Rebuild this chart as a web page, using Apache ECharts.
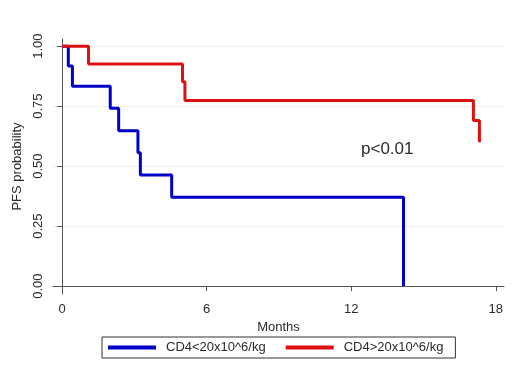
<!DOCTYPE html>
<html>
<head>
<meta charset="utf-8">
<script src="https://cdn.jsdelivr.net/npm/echarts@6/dist/echarts.min.js"></script>
<style>
  html, body { margin: 0; padding: 0; background: #fff; }
  #chart { width: 520px; height: 379px; }
</style>
</head>
<body>
<div id="chart"></div>
<script>
// Kaplan-Meier step points (months, survival)
const lowMonths = [0, 0.26, 0.43, 2.0, 2.35, 3.15, 3.25, 4.55, 14.17];
const lowSurv = [1, 0.917, 0.833, 0.741, 0.648, 0.556, 0.463, 0.370, 0];
const highMonths = [0, 1.1, 5.0, 5.1, 17.07, 17.32];
const highSurv = [1, 0.926, 0.852, 0.774, 0.69, 0.60];

const xTicks = [0, 6, 12, 18];
const yTicks = [0, 0.25, 0.5, 0.75, 1];
const seriesNames = ['CD4<20x10^6/kg', 'CD4>20x10^6/kg'];
const pText = 'p<0.01';

const font = 'Liberation Sans, Arial, sans-serif';
const textColor = '#2b2b2b';

const chart = echarts.init(document.getElementById('chart'));

const zip = (xs, ys) => xs.map((x, i) => [x, ys[i]]);

const option = {
  animation: false,
  textStyle: { fontFamily: font },
  grid: { left: 53, right: 16, top: 39, bottom: 85, containLabel: false },
  xAxis: {
    type: 'value',
    min: -0.375,
    max: 18.34,
    name: 'Months',
    nameLocation: 'middle',
    nameGap: 20,
    nameTextStyle: { fontSize: 13, color: textColor, fontFamily: font },
    axisLine: { show: true, lineStyle: { color: '#555', width: 1 } },
    axisTick: { show: true, length: 5, customValues: xTicks, lineStyle: { color: '#555' } },
    axisLabel: { customValues: xTicks, fontSize: 13, color: textColor, margin: 9, fontFamily: font },
    splitLine: { show: false },
  },
  yAxis: {
    type: 'value',
    min: -0.033,
    max: 1.03,
    name: 'PFS probability',
    nameLocation: 'middle',
    nameRotate: 90,
    nameGap: 24,
    nameTextStyle: { fontSize: 13, color: textColor, fontFamily: font },
    axisLine: { show: true, lineStyle: { color: '#555', width: 1 } },
    axisTick: { show: true, length: 5, customValues: yTicks, lineStyle: { color: '#555' } },
    axisLabel: {
      customValues: yTicks,
      rotate: 90,
      fontSize: 13,
      color: textColor,
      margin: 8,
      fontFamily: font,
      formatter: (v) => v.toFixed(2),
    },
    splitLine: { show: true, lineStyle: { color: '#eeeeee', width: 1 } },
  },
  legend: {
    left: 102,
    top: 337,
    orient: 'horizontal',
    padding: [4, 12, 4, 6],
    borderColor: '#333',
    borderWidth: 1,
    itemWidth: 48,
    itemHeight: 4,
    itemGap: 20,
    icon: 'rect',
    textStyle: { fontSize: 13, color: textColor, fontFamily: font, padding: [0, 0, 0, 5] },
    data: seriesNames,
  },
  graphic: [
    {
      type: 'text',
      left: 361,
      top: 141,
      style: { text: pText, fontSize: 17, fill: textColor, fontFamily: font },
    },
  ],
  series: [
    {
      name: seriesNames[0],
      type: 'line',
      step: 'end',
      showSymbol: false,
      symbol: 'none',
      color: '#0000c8',
      lineStyle: { width: 3, color: '#0000c8' },
      data: zip(lowMonths, lowSurv),
    },
    {
      name: seriesNames[1],
      type: 'line',
      step: 'end',
      showSymbol: false,
      symbol: 'none',
      color: '#dd1111',
      lineStyle: { width: 3, color: '#dd1111' },
      data: zip(highMonths, highSurv),
    },
  ],
};

chart.setOption(option);
</script>
</body>
</html>
